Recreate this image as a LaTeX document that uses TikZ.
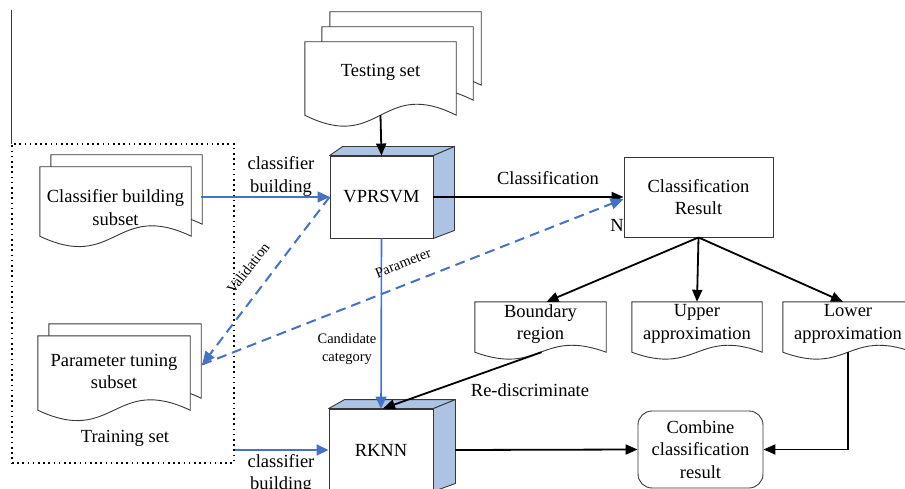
\documentclass[tikz,border=0pt]{standalone}
\usepackage{fontspec}
\setmainfont{Liberation Serif}
\usetikzlibrary{arrows.meta,calc}
\pgfdeclarelayer{bg}
\pgfsetlayers{bg,main}
\definecolor{myblue}{RGB}{68,114,196}
\definecolor{facecol}{RGB}{172,195,228}
\definecolor{edgecol}{RGB}{55,55,55}
% #1 node, #2 offset, #3 y of sides bottom relative to node south, #4 wave control
\newcommand\docpath[4]{%
  \path[docline] ($(#1.north west)+#2$) -- ($(#1.north east)+#2$)
    -- ($(#1.south east)+#2+(0,#3)$)
    .. controls ($(#1.south)+#2+(0,#3)+(0,#4)$) and ($(#1.south)+#2+(0,#3)+(0,-#4)$)
    .. ($(#1.south west)+#2+(0,#3)$) -- cycle;}
\begin{document}
\begin{tikzpicture}[x=1pt,y=1pt,
  every node/.style={font=\fontsize{18.5}{22.5}\selectfont, align=center},
  docn/.style={inner sep=0pt},
  docline/.style={draw=edgecol, line width=0.9pt, fill=white},
  boxn/.style={draw=edgecol, line width=0.9pt, fill=white, inner sep=0pt},
  facest/.style={draw=edgecol, line width=0.9pt, fill=facecol, line join=round},
  lbl/.style={inner sep=0pt},
  slbl/.style={inner sep=0pt, font=\fontsize{14.5}{18}\selectfont},
  karr/.style={draw=black, line width=1.8pt, -{Triangle[length=12pt,width=10pt]}},
  barr/.style={draw=myblue, line width=1.6pt, -{Triangle[length=12pt,width=11pt]}},
  bdash/.style={draw=myblue, line width=2pt, dash pattern=on 10pt off 6pt, -{Triangle[length=13pt,width=11pt]}},
]
\useasboundingbox (0,0) rectangle (905,-489);
\clip (0,0) rectangle (905,-489);

% left edge line
\draw[line width=1pt, edgecol] (11,-10) -- (11,-144);

% training set frame
\node[draw=black, line width=1.6pt, dash pattern=on 1.6pt off 3.6pt,
      minimum width=222pt, minimum height=319pt, inner sep=0pt] (train) at (123,-303.5) {};
\node[lbl] (trainlbl) at (125,-438) {Training set};

% documents
\node[docn, minimum width=151pt, minimum height=60pt] (test) at (380.5,-72) {Testing set};
\node[docn, minimum width=151pt, minimum height=81pt] (cbs) at (115.5,-207.5) {Classifier building\\subset};
\node[docn, minimum width=152pt, minimum height=71pt] (pts) at (114,-371.5) {Parameter tuning\\subset};
\node[docn, minimum width=131pt, minimum height=44pt] (bnd) at (540.5,-324) {Boundary\\region};
\node[docn, minimum width=130pt, minimum height=44pt] (upr) at (697,-324) {Upper\\approximation};
\node[docn, minimum width=130pt, minimum height=44pt] (lwr) at (848,-324) {Lower\\approximation};

\begin{pgfonlayer}{bg}
  \docpath{test}{(25,30)}{-13}{38}
  \docpath{test}{(17,15)}{-13}{38}
  \docpath{test}{(0,0)}{-13}{38}
  \docpath{cbs}{(11,12)}{12}{36}
  \docpath{cbs}{(0,0)}{12}{36}
  \docpath{pts}{(11,12)}{-3}{36}
  \docpath{pts}{(0,0)}{-3}{36}
  \docpath{bnd}{(0,0)}{-6}{24}
  \docpath{upr}{(0,0)}{-6}{24}
  \docpath{lwr}{(0,0)}{-6}{24}
\end{pgfonlayer}

% 3D boxes
\node[boxn, minimum width=103pt, minimum height=82pt] (vpr) at (381.5,-197) {VPRSVM};
\path[facest] (vpr.north west) -- ++(13,9) -- ($(vpr.north east)+(21,9)$) -- (vpr.north east) -- cycle;
\path[facest] (vpr.north east) -- ++(21,9) -- ($(vpr.south east)+(21,8)$) -- (vpr.south east) -- cycle;

\node[boxn, minimum width=104pt, minimum height=82pt] (rknn) at (381,-450) {RKNN};
\path[facest] (rknn.north west) -- ++(16,9) -- ($(rknn.north east)+(22,9)$) -- (rknn.north east) -- cycle;
\path[facest] (rknn.north east) -- ++(22,9) -- ($(rknn.south east)+(22,8)$) -- (rknn.south east) -- cycle;

% other boxes
\node[boxn, minimum width=149pt, minimum height=80pt] (cr) at (698.5,-197) {Classification\\Result};
\node[boxn, rounded corners=14pt, minimum width=125pt, minimum height=77pt] (comb) at (700.5,-449.5) {Combine\\classification\\result};

% helper coordinates
\coordinate (testw) at ($(test.south)+(0,-13)$);
\coordinate (cbsR) at ($(cbs.north east)+(10,0)$);
\coordinate (ptsR) at ($(pts.east)+(12,7)$);
\coordinate (bndw) at ($(bnd.south)+(1,-6)$);
\coordinate (lwrw) at ($(lwr.south)+(0,-6)$);
\coordinate (rknnR) at ($(rknn.east)+(22,0)$);

% connectors
\draw[karr] (testw) -- (vpr.north);
\draw[barr] (cbsR |- vpr.west) -- (vpr.west);
\draw[barr] (vpr.south) -- (rknn.north);
\draw[karr] (vpr.east) -- (cr.west);
\draw[bdash] (vpr.west) -- (ptsR);
\draw[bdash] (ptsR) -- ($(cr.west)+(0,-2)$);
\draw[karr] (cr.south) -- ($(bnd.north)+(6,0)$);
\draw[karr] (cr.south) -- (upr.north);
\draw[karr] (cr.south) -- ($(lwr.north)+(-5,0)$);
\draw[karr] (bndw) -- ($(rknn.north)+(2,0)$);
\draw[karr] (rknnR) -- (comb.west);
\draw[karr] (lwrw) |- (comb.east);
\draw[barr] (train.east |- rknn.west) -- (rknn.west);

% labels
\node[lbl] (lcb1) at (281,-176.5) {classifier\\building};
\node[lbl] (lcb2) at (281,-474) {classifier\\building};
\node[lbl] (lcls) at (548,-178) {Classification};
\node[lbl] (lN) at (617,-225) {N};
\node[lbl] (lre) at (530,-390) {Re-discriminate};
\node[slbl, rotate=52] (lval) at (248,-268) {Validation};
\node[slbl, rotate=22] (lpar) at (403,-263) {Parameter};
\node[slbl] (lcand) at (347,-349) {Candidate\\category};
\end{tikzpicture}
\end{document}
